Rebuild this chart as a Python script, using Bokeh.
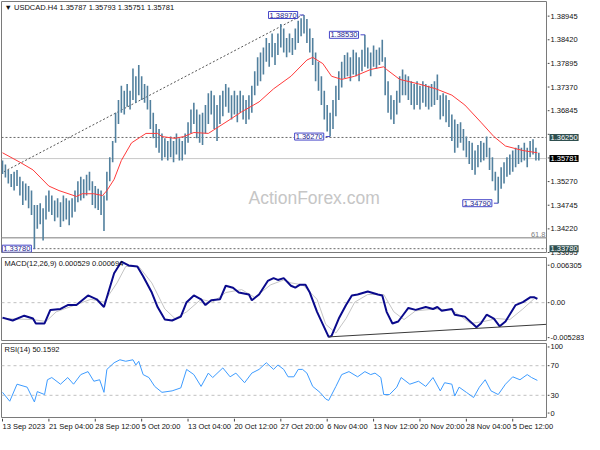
from bokeh.plotting import figure
from bokeh.models import Range1d, Label
from bokeh.layouts import column, row
from bokeh.core.properties import value
from bokeh.embed import file_html
from bokeh.resources import INLINE

# ---------------- data ----------------
bar_step = 2  # each drawn bar = 2 H4 periods
bar_high = [1.3574, 1.3565, 1.3553, 1.3544, 1.3549, 1.3553, 1.3538, 1.3528, 1.3523, 1.3517,
            1.3507, 1.3475, 1.3475, 1.3479, 1.3468, 1.3496, 1.3507, 1.3496, 1.3485, 1.3490,
            1.3481, 1.3496, 1.3490, 1.3485, 1.3490, 1.3507, 1.3528, 1.3538, 1.3532, 1.3542,
            1.3549, 1.3528, 1.3517, 1.3511, 1.3507, 1.3496, 1.3549, 1.3581, 1.3617, 1.3680,
            1.3708, 1.3740, 1.3729, 1.3744, 1.3729, 1.3778, 1.3761, 1.3786, 1.3761, 1.3744,
            1.3740, 1.3708, 1.3680, 1.3655, 1.3644, 1.3634, 1.3623, 1.3617, 1.3627, 1.3617,
            1.3634, 1.3623, 1.3617, 1.3634, 1.3659, 1.3687, 1.3702, 1.3687, 1.3676, 1.3680,
            1.3697, 1.3723, 1.3729, 1.3719, 1.3697, 1.3719, 1.3729, 1.3744, 1.3736, 1.3719,
            1.3729, 1.3719, 1.3729, 1.3719, 1.3708, 1.3719, 1.3740, 1.3772, 1.3803, 1.3814,
            1.3825, 1.3846, 1.3835, 1.3856, 1.3835, 1.3856, 1.3877, 1.3867, 1.3846, 1.3856,
            1.3846, 1.3867, 1.3884, 1.3890, 1.3897, 1.3888, 1.3867, 1.3846, 1.3814, 1.3793,
            1.3761, 1.3729, 1.3697, 1.3680, 1.3708, 1.3740, 1.3772, 1.3793, 1.3808, 1.3814,
            1.3803, 1.3820, 1.3814, 1.3803, 1.3820, 1.3853, 1.3825, 1.3814, 1.3829, 1.3820,
            1.3825, 1.3842, 1.3803, 1.3750, 1.3719, 1.3708, 1.3729, 1.3761, 1.3776, 1.3765,
            1.3761, 1.3750, 1.3744, 1.3750, 1.3740, 1.3750, 1.3744, 1.3740, 1.3744, 1.3750,
            1.3765, 1.3719, 1.3723, 1.3719, 1.3708, 1.3676, 1.3665, 1.3655, 1.3659, 1.3644,
            1.3627, 1.3617, 1.3613, 1.3596, 1.3608, 1.3617, 1.3613, 1.3627, 1.3602, 1.3581,
            1.3549, 1.3538, 1.3559, 1.3570, 1.3581, 1.3587, 1.3596, 1.3602, 1.3608, 1.3602,
            1.3613, 1.3602, 1.3617, 1.3621, 1.3602, 1.3591]
bar_low = [1.3544, 1.3536, 1.3523, 1.3515, 1.3507, 1.3517, 1.3496, 1.3475, 1.3485, 1.3468,
           1.3453, 1.3378, 1.3422, 1.3432, 1.3396, 1.3443, 1.3460, 1.3453, 1.3439, 1.3447,
           1.3426, 1.3439, 1.3443, 1.3430, 1.3447, 1.3460, 1.3481, 1.3485, 1.3490, 1.3496,
           1.3507, 1.3475, 1.3468, 1.3464, 1.3453, 1.3417, 1.3485, 1.3528, 1.3570, 1.3613,
           1.3655, 1.3680, 1.3676, 1.3693, 1.3687, 1.3708, 1.3702, 1.3719, 1.3708, 1.3702,
           1.3687, 1.3644, 1.3623, 1.3602, 1.3591, 1.3574, 1.3581, 1.3574, 1.3581, 1.3570,
           1.3587, 1.3574, 1.3574, 1.3587, 1.3613, 1.3634, 1.3655, 1.3623, 1.3613, 1.3608,
           1.3634, 1.3655, 1.3676, 1.3644, 1.3617, 1.3655, 1.3672, 1.3693, 1.3680, 1.3665,
           1.3676, 1.3659, 1.3680, 1.3665, 1.3655, 1.3665, 1.3680, 1.3719, 1.3740, 1.3750,
           1.3765, 1.3793, 1.3782, 1.3803, 1.3786, 1.3808, 1.3825, 1.3814, 1.3803, 1.3814,
           1.3808, 1.3820, 1.3835, 1.3850, 1.3856, 1.3835, 1.3814, 1.3786, 1.3750, 1.3729,
           1.3697, 1.3665, 1.3638, 1.3627, 1.3644, 1.3672, 1.3708, 1.3736, 1.3757, 1.3761,
           1.3750, 1.3765, 1.3761, 1.3750, 1.3772, 1.3782, 1.3778, 1.3761, 1.3782, 1.3778,
           1.3786, 1.3793, 1.3719, 1.3680, 1.3665, 1.3655, 1.3676, 1.3702, 1.3719, 1.3719,
           1.3708, 1.3697, 1.3687, 1.3697, 1.3687, 1.3702, 1.3693, 1.3687, 1.3693, 1.3697,
           1.3708, 1.3665, 1.3672, 1.3659, 1.3648, 1.3617, 1.3591, 1.3602, 1.3613, 1.3596,
           1.3581, 1.3566, 1.3553, 1.3542, 1.3559, 1.3570, 1.3574, 1.3581, 1.3553, 1.3528,
           1.3507, 1.3479, 1.3511, 1.3523, 1.3538, 1.3542, 1.3549, 1.3559, 1.3566, 1.3570,
           1.3574, 1.3559, 1.3581, 1.3587, 1.3574, 1.3574]

ma_idx = [0, 12, 21, 32, 39, 51, 55, 63, 69, 72, 77, 82, 89, 99, 107, 110, 119, 125, 132, 142,
          157, 165, 177, 187, 199, 210, 214, 221, 227, 234, 243, 254, 263, 265, 274, 287, 299,
          310, 319, 330, 339, 347, 359, 369]
ma_val = [1.3591, 1.3570, 1.3553, 1.3517, 1.3507, 1.3494, 1.3500, 1.3500, 1.3496, 1.3507,
          1.3532, 1.3574, 1.3613, 1.3634, 1.3634, 1.3627, 1.3623, 1.3627, 1.3636, 1.3634,
          1.3665, 1.3682, 1.3704, 1.3733, 1.3761, 1.3797, 1.3803, 1.3789, 1.3761, 1.3754,
          1.3761, 1.3776, 1.3782, 1.3776, 1.3754, 1.3744, 1.3733, 1.3719, 1.3697, 1.3659,
          1.3627, 1.3606, 1.3596, 1.3591]

trend_idx = [1, 207]
trend_val = [1.3549, 1.3897]

dashed_levels = [1.3625, 1.3378]
last_price = 1.35781
fib_level = 1.3402
fib_text = "61.8"

ext_idx = [22, 208, 226, 250, 342]
ext_val = [1.3378, 1.3897, 1.3627, 1.3853, 1.3479]
ext_txt = ["1.33780", "1.38970", "1.36270", "1.38530", "1.34790"]

price_ticks = [1.38945, 1.38420, 1.37895, 1.37370, 1.36845, 1.36320, 1.35795,
               1.35270, 1.34745, 1.34220, 1.33695]
price_tick_txt = ["1.38945", "1.38420", "1.37895", "1.37370", "1.36845", "", "",
                  "1.35270", "1.34745", "1.34220", "1.33695"]

tag_val = [1.3625, 1.35781, 1.3378]
tag_txt = ["1.36250", "1.35781", "1.33780"]
tag_bg = ["#2f4f4f", "#000000", "#2f4f4f"]

title_main = "\u25bc USDCAD.H4  1.35787 1.35793 1.35751 1.35781"
watermark = "ActionForex.com"

macd_idx = [0, 7, 15, 21, 23, 29, 33, 40, 45, 51, 59, 65, 70, 73, 77, 82, 87, 93, 97, 103,
            107, 112, 117, 123, 127, 132, 137, 140, 144, 150, 154, 159, 163, 170, 172, 177,
            183, 187, 190, 194, 199, 202, 205, 209, 212, 217, 221, 225, 227, 232, 237, 241,
            245, 252, 259, 262, 265, 269, 273, 277, 280, 285, 292, 297, 300, 303, 310, 312,
            319, 327, 330, 334, 339, 343, 347, 354, 359, 364, 367, 369]
macd_val = [-0.00209, -0.00249, -0.00182, -0.00222, -0.00290, -0.00290, -0.00101, -0.00088,
            -0.00034, -0.00034, 0.00101, 0.00047, -0.00061, 0.00141, 0.00411, 0.00572,
            0.00519, 0.00505, 0.00370, 0.00141, -0.00061, -0.00236, -0.00249, -0.00195,
            0.00007, 0.00101, 0.00047, -0.00034, 0.00034, 0.00047, 0.00236, 0.00209,
            0.00141, 0.00114, 0.00034, 0.00114, 0.00303, 0.00343, 0.00317, 0.00343,
            0.00236, 0.00209, 0.00249, 0.00249, 0.00141, -0.00128, -0.00303, -0.00478,
            -0.00465, -0.00222, -0.00034, 0.00101, 0.00114, 0.00155, 0.00114, 0.00101,
            -0.00128, -0.00290, -0.00263, -0.00155, -0.00074, -0.00101, -0.00061, -0.00088,
            -0.00061, -0.00114, -0.00088, -0.00168, -0.00195, -0.00343, -0.00290, -0.00168,
            -0.00222, -0.00330, -0.00263, -0.00034, 0.00007, 0.00074, 0.00074, 0.000529]
sig_idx = [0, 21, 30, 37, 50, 61, 70, 79, 85, 94, 103, 112, 119, 127, 137, 145, 154, 165,
           174, 185, 194, 199, 207, 217, 223, 230, 237, 243, 252, 263, 270, 277, 285, 299,
           310, 323, 332, 341, 350, 359, 367, 369]
sig_val = [-0.00222, -0.00236, -0.00263, -0.00128, -0.00034, 0.00047, 0.00007, 0.00276,
           0.00505, 0.00505, 0.00276, -0.00088, -0.00222, -0.00128, 0.00047, 0.00007,
           0.00141, 0.00182, 0.00074, 0.00249, 0.00317, 0.00276, 0.00249, 0.00047,
           -0.00303, -0.00424, -0.00222, 0.00007, 0.00114, 0.00114, -0.00128, -0.00236,
           -0.00114, -0.00088, -0.00101, -0.00290, -0.00263, -0.00222, -0.00236, -0.00088,
           0.00060, 0.000694]
macd_tl_idx = [225, 375]
macd_tl_val = [-0.00478, -0.00303]
macd_ticks = [0.00523, 0.0, -0.00488]
macd_tick_txt = ["0.006305", "0.00", "-0.005283"]
title_macd = "MACD(12,26,9) 0.000529 0.000694"

rsi_idx = [0, 5, 10, 17, 22, 24, 29, 31, 34, 40, 45, 49, 54, 59, 63, 67, 70, 72, 77, 81, 85,
           90, 92, 94, 97, 101, 105, 110, 117, 123, 127, 132, 137, 142, 145, 152, 157, 161,
           167, 172, 177, 182, 187, 190, 194, 197, 201, 204, 207, 210, 214, 219, 223, 225,
           230, 234, 239, 245, 250, 254, 257, 261, 263, 267, 272, 275, 281, 287, 292, 297,
           302, 305, 310, 312, 315, 320, 325, 329, 333, 337, 342, 347, 352, 357, 362, 365, 369]
rsi_val = [34, 22, 45, 41, 21, 35, 31, 51, 54, 45, 54, 45, 58, 62, 49, 51, 34, 65, 74, 78, 76,
           78, 71, 76, 58, 54, 42, 34, 36, 40, 65, 58, 42, 60, 54, 67, 55, 60, 47, 60, 65, 74,
           65, 71, 65, 55, 55, 65, 65, 60, 42, 34, 25, 23, 42, 58, 62, 55, 62, 58, 60, 54, 31,
           31, 41, 54, 45, 49, 42, 54, 36, 47, 45, 29, 41, 34, 27, 41, 51, 36, 31, 45, 55, 51,
           58, 54, 50.16]
rsi_levels = [30, 70]
rsi_ticks = [95.3, 70, 30, 6]
rsi_tick_txt = ["100", "70", "30", "0"]
title_rsi = "RSI(14) 50.1592"

time_idx = [0, 32, 64, 96, 128, 160, 192, 224, 256, 288, 320, 352]
time_txt = ["13 Sep 2023", "21 Sep 04:00", "28 Sep 12:00", "5 Oct 20:00", "13 Oct 04:00",
            "20 Oct 12:00", "27 Oct 20:00", "6 Nov 04:00", "13 Nov 12:00", "20 Nov 20:00",
            "28 Nov 04:00", "5 Dec 12:00"]

# ---------------- styling / layout ----------------
FONT = "Liberation Sans"
FS = "7.5px"
FW = 545          # frame width of the chart panels
AW = 37           # width of the price-scale column
BAR = "#52809e"
BORDER = "#7a7a7a"
TXT = "#111111"

xr = Range1d(-0.7, 375.3)


def panel(frame_h, y_rng, top, bottom):
    p = figure(frame_width=FW, frame_height=frame_h, x_range=xr, y_range=y_rng,
               x_axis_location=None, y_axis_location=None,
               output_backend="svg", toolbar_location=None,
               min_border_left=1, min_border_right=1,
               min_border_top=top, min_border_bottom=bottom)
    p.grid.visible = False
    p.outline_line_color = BORDER
    p.background_fill_color = "white"
    p.border_fill_color = "white"
    return p


def scale_column(frame_h, y_rng, ticks, tick_txt, top, bottom):
    a = figure(frame_width=AW, frame_height=frame_h, x_range=Range1d(0, AW), y_range=y_rng,
               x_axis_location=None, y_axis_location=None,
               output_backend="svg", toolbar_location=None,
               min_border_left=0, min_border_right=0,
               min_border_top=top, min_border_bottom=bottom)
    a.grid.visible = False
    a.outline_line_color = None
    a.background_fill_color = "white"
    a.border_fill_color = "white"
    a.segment(x0=0, y0=ticks, x1=2, y1=ticks, line_color="#444444", line_width=1)
    shown = [(t, s) for t, s in zip(ticks, tick_txt) if s]
    a.text(x=3, y=[t for t, _ in shown], text=[s for _, s in shown],
           text_font=value(FONT), text_font_size=value(FS), text_color=TXT,
           text_align="left", text_baseline="middle")
    return a


def add_title(p, text, y_top):
    p.add_layout(Label(x=xr.start, y=y_top, text=text, x_offset=3, y_offset=-6,
                       text_align="left", text_baseline="middle", text_font=FONT,
                       text_font_size=FS, text_color=TXT))


# ---------------- main price panel ----------------
MAIN_H = 251
MAIN_EXTRA = 4
y_main = Range1d(1.33695, 1.3927)
p1 = panel(MAIN_H, y_main, 1, MAIN_EXTRA)

for lv in dashed_levels:
    p1.line(x=[xr.start, xr.end], y=[lv, lv], line_color="#6a6a6a", line_dash="2 2", line_width=1)
p1.line(x=[xr.start, xr.end], y=[last_price, last_price], line_color="#c8c8c8", line_width=1)
p1.line(x=[xr.start, xr.end], y=[fib_level, fib_level], line_color="#a8a8a8", line_width=1.5)
p1.line(x=trend_idx, y=trend_val, line_color="#555555", line_dash="2 2", line_width=1)

p1.add_layout(Label(x=xr.end, y=fib_level, text=fib_text, x_offset=-1, y_offset=1,
                    text_align="right", text_baseline="bottom", text_font=FONT,
                    text_font_size=FS, text_color="#808080"))
p1.add_layout(Label(x=215, y=1.3490, text=watermark, text_align="center",
                    text_baseline="middle", text_font=FONT, text_font_size="17.5px",
                    text_color="#c6c6c6"))

bx = [bar_step * k for k in range(len(bar_high))]
p1.segment(x0=bx, y0=bar_low, x1=bx, y1=bar_high, line_color=BAR, line_width=1.6)
p1.line(x=ma_idx, y=ma_val, line_color="#ff3b3b", line_width=1)

for i, v, t in zip(ext_idx, ext_val, ext_txt):
    anchor = max(i - 3, xr.start + 22)
    p1.segment(x0=[anchor], y0=[v], x1=[i], y1=[v], line_color="#4646c8", line_width=1)
    p1.add_layout(Label(x=anchor, y=v, text=t, x_offset=-2, text_align="right",
                        text_baseline="middle", text_font=FONT, text_font_size=FS,
                        text_color="#1e1e8c", background_fill_color="white",
                        border_line_color="#4646c8", padding=1))

add_title(p1, title_main, y_main.end)

# price scale column (extends a few px below the panel, like the terminal's scale)
main_per_px = (y_main.end - y_main.start) / MAIN_H
y_main_scale = Range1d(y_main.start - MAIN_EXTRA * main_per_px, y_main.end)
a1 = scale_column(MAIN_H + MAIN_EXTRA, y_main_scale, price_ticks, price_tick_txt, 1, 0)
for v, t, bg in zip(tag_val, tag_txt, tag_bg):
    a1.add_layout(Label(x=2, y=v, text=t, text_align="left", text_baseline="middle",
                        text_font=FONT, text_font_size=FS, text_color="white",
                        background_fill_color=bg, padding=1))

# ---------------- MACD panel ----------------
MACD_H = 83
y_macd = Range1d(-0.005283, 0.006305)
p2 = panel(MACD_H, y_macd, 1, 2)
p2.line(x=[xr.start, xr.end], y=[0, 0], line_color="#c0c0c0", line_dash="3 3", line_width=1)
p2.line(x=sig_idx, y=sig_val, line_color="#c4c4c4", line_width=1)
p2.line(x=macd_idx, y=macd_val, line_color="#0a0a8c", line_width=2)
p2.line(x=macd_tl_idx, y=macd_tl_val, line_color="#3a3a3a", line_width=1)
add_title(p2, title_macd, y_macd.end)
a2 = scale_column(MACD_H, y_macd, macd_ticks, macd_tick_txt, 1, 2)

# ---------------- RSI panel ----------------
RSI_H = 74
y_rsi = Range1d(0, 100)
p3 = panel(RSI_H, y_rsi, 1, 1)
for lv in rsi_levels:
    p3.line(x=[xr.start, xr.end], y=[lv, lv], line_color="#c0c0c0", line_dash="3 3", line_width=1)
p3.line(x=rsi_idx, y=rsi_val, line_color="#3d9bff", line_width=1)
add_title(p3, title_rsi, y_rsi.end)
a3 = scale_column(RSI_H, y_rsi, rsi_ticks, rsi_tick_txt, 1, 1)

# ---------------- time scale strip ----------------
STRIP_W = FW + 1 + AW
x_per_px = (xr.end - xr.start) / FW
xs = Range1d(xr.start, xr.start + STRIP_W * x_per_px)
s = figure(frame_width=STRIP_W, frame_height=15, x_range=xs, y_range=Range1d(0, 1),
           x_axis_location=None, y_axis_location=None,
           output_backend="svg", toolbar_location=None,
           min_border_left=1, min_border_right=0, min_border_top=0, min_border_bottom=0)
s.grid.visible = False
s.outline_line_color = None
s.segment(x0=time_idx, y0=1, x1=time_idx, y1=0.8, line_color="#444444", line_width=1)
s.text(x=time_idx, y=0.75, text=time_txt, text_font=value(FONT), text_font_size=value(FS),
       text_color=TXT, text_align="left", text_baseline="top")

layout = column(row(p1, a1, spacing=0), row(p2, a2, spacing=0), row(p3, a3, spacing=0), s,
                spacing=0)
open("out.html", "w").write(file_html(layout, INLINE))
